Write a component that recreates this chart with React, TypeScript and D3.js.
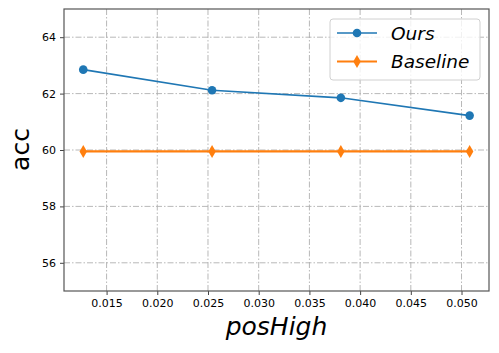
import React, { useEffect, useRef } from 'react';
import * as d3 from 'd3';

// data
const posHigh = [0.0127, 0.0254, 0.0381, 0.0508];
const oursAcc = [62.85, 62.12, 61.85, 61.22];
const baselineAcc = [59.95, 59.95, 59.95, 59.95];
const xTicks = [0.015, 0.02, 0.025, 0.03, 0.035, 0.04, 0.045, 0.05];
const yTicks = [56, 58, 60, 62, 64];

const FONT = 'DejaVu Sans, sans-serif';

function App() {
  const ref = useRef<SVGSVGElement>(null);

  useEffect(() => {
    const width = 499;
    const height = 353;
    const m = { left: 64, right: 10, top: 9, bottom: 62 };

    const svg = d3.select(ref.current);
    svg.selectAll('*').remove();
    svg.attr('width', width).attr('height', height);

    const x = d3.scaleLinear().domain([0.01080, 0.05271]).range([m.left, width - m.right]);
    const y = d3.scaleLinear().domain([55, 65]).range([height - m.bottom, m.top]);

    // grid
    const grid = svg.append('g')
      .attr('stroke', '#b0b0b0')
      .attr('stroke-width', 0.9)
      .attr('stroke-dasharray', '6,2,1.5,2');
    grid.selectAll('.gx').data(xTicks).enter().append('line')
      .attr('x1', d => x(d)).attr('x2', d => x(d))
      .attr('y1', m.top).attr('y2', height - m.bottom);
    grid.selectAll('.gy').data(yTicks).enter().append('line')
      .attr('x1', m.left).attr('x2', width - m.right)
      .attr('y1', d => y(d)).attr('y2', d => y(d));

    // axes
    const xAxis = svg.append('g')
      .attr('transform', `translate(0,${height - m.bottom})`)
      .call(d3.axisBottom(x).tickValues(xTicks).tickFormat(d3.format('.3f')).tickSize(4).tickPadding(4));
    const yAxis = svg.append('g')
      .attr('transform', `translate(${m.left},0)`)
      .call(d3.axisLeft(y).tickValues(yTicks).tickFormat(d3.format('d')).tickSize(4).tickPadding(4));
    [xAxis, yAxis].forEach(a => {
      a.select('.domain').remove();
      a.selectAll('line').attr('stroke', '#444').attr('stroke-width', 1);
      a.selectAll('text').attr('font-family', FONT).attr('font-size', 11).attr('fill', '#000');
    });

    // spines
    svg.append('rect')
      .attr('x', m.left).attr('y', m.top)
      .attr('width', width - m.left - m.right)
      .attr('height', height - m.top - m.bottom)
      .attr('fill', 'none').attr('stroke', '#555').attr('stroke-width', 1.2);

    const line = d3.line<number>().x((d, i) => x(posHigh[i])).y(d => y(d));
    const diamond = (cx: number, cy: number, w: number, h: number) =>
      `M${cx},${cy - h / 2}L${cx + w / 2},${cy}L${cx},${cy + h / 2}L${cx - w / 2},${cy}Z`;

    // Ours
    svg.append('path').datum(oursAcc).attr('d', line)
      .attr('fill', 'none').attr('stroke', '#1f77b4').attr('stroke-width', 1.6);
    svg.selectAll('.pt-ours').data(oursAcc).enter().append('circle')
      .attr('cx', (d, i) => x(posHigh[i])).attr('cy', d => y(d)).attr('r', 4.3)
      .attr('fill', '#1f77b4');

    // Baseline
    svg.append('path').datum(baselineAcc).attr('d', line)
      .attr('fill', 'none').attr('stroke', '#ff7f0e').attr('stroke-width', 2.2);
    svg.selectAll('.pt-base').data(baselineAcc).enter().append('path')
      .attr('d', (d, i) => diamond(x(posHigh[i]), y(d), 7.5, 13))
      .attr('fill', '#ff7f0e');

    // axis labels
    svg.append('text')
      .attr('x', (m.left + width - m.right) / 2).attr('y', 335)
      .attr('text-anchor', 'middle').attr('font-family', FONT)
      .attr('font-style', 'italic').attr('font-size', 25).text('posHigh');
    svg.append('text')
      .attr('transform', `translate(29,${(m.top + height - m.bottom) / 2 - 0.5}) rotate(-90)`)
      .attr('text-anchor', 'middle').attr('font-family', FONT)
      .attr('font-size', 25).text('acc');

    // legend
    const lg = svg.append('g');
    lg.append('rect')
      .attr('x', 330).attr('y', 19).attr('width', 150).attr('height', 61).attr('rx', 3)
      .attr('fill', 'rgba(255,255,255,0.8)').attr('stroke', '#d0d0d0').attr('stroke-width', 1);
    const items = [
      { label: 'Ours', color: '#1f77b4', marker: 'circle', cy: 33 },
      { label: 'Baseline', color: '#ff7f0e', marker: 'diamond', cy: 61.5 },
    ];
    items.forEach(it => {
      lg.append('line')
        .attr('x1', 337).attr('x2', 377).attr('y1', it.cy).attr('y2', it.cy)
        .attr('stroke', it.color).attr('stroke-width', it.marker === 'circle' ? 1.6 : 2.2);
      if (it.marker === 'circle') {
        lg.append('circle').attr('cx', 357).attr('cy', it.cy).attr('r', 4.3).attr('fill', it.color);
      } else {
        lg.append('path').attr('d', diamond(357, it.cy, 7.5, 13)).attr('fill', it.color);
      }
      lg.append('text')
        .attr('x', 391).attr('y', it.cy + 6.5)
        .attr('font-family', FONT).attr('font-style', 'italic').attr('font-size', 18.5)
        .text(it.label);
    });
  }, []);

  return <svg ref={ref} style={{ display: 'block', position: 'absolute', left: 0, top: 0 }} />;
}

export default App;
